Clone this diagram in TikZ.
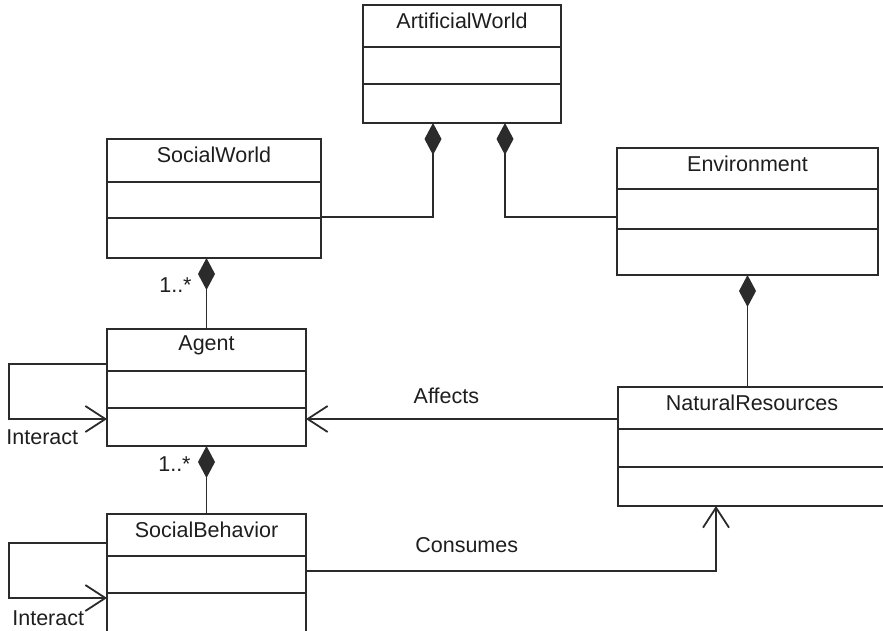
\documentclass[tikz,border=0pt]{standalone}
\usepackage{fontspec}
\setmainfont{Liberation Sans}
\usetikzlibrary{arrows.meta}

\definecolor{umlline}{HTML}{2B2B2B}
\definecolor{umltext}{HTML}{1E1E1E}

\tikzset{
    classbox/.style={draw=umlline, line width=1.8pt, rectangle, inner sep=0pt, outer sep=0pt, anchor=north west},
    classline/.style={draw=umlline, line width=1.8pt},
    classname/.style={inner sep=0pt, text=umltext},
    has/.style={draw=umlline, line width=1.8pt, arrows={Diamond[length=32pt, width=17pt, fill=umlline]-}},
    uses/.style={draw=umlline, line width=1.8pt, arrows={-Straight Barb[length=20pt, width=26pt]}},
    tag/.style={inner sep=0pt, text=umltext},
}

% name, title, left, top, width, height, divider offsets
\newcommand{\umlclass}[7]{
    \node[classbox, minimum width=#5, minimum height=#6] (#1) at (#3,#4) {};
    \node[classname] (#1-title) at ([yshift=-16pt]#1.north) {#2};
    \foreach \dy in {#7}
        \draw[classline] ([yshift=-\dy pt]#1.north west) -- ([yshift=-\dy pt]#1.north east);
}

\begin{document}
\begin{tikzpicture}[x=1pt, y=-1pt, font=\fontsize{21.5}{25}\selectfont]
    \useasboundingbox (0,0) rectangle (883,631);
    \clip (0,0) rectangle (883,631);

    \umlclass{aw}{ArtificialWorld}{363}{5}{198pt}{118pt}{42,79}
    \umlclass{sw}{SocialWorld}{107}{139}{214pt}{119pt}{43,79}
    \umlclass{env}{Environment}{617}{148}{261pt}{127pt}{41,81}
    \umlclass{ag}{Agent}{107}{329}{199pt}{117pt}{42,79}
    \umlclass{nr}{NaturalResources}{618}{387}{268pt}{119pt}{42,80}
    \umlclass{sb}{SocialBehavior}{107}{514}{199pt}{120pt}{42,79}

    % composition
    \draw[has] ([xshift=-29pt]aw.south) |- ([yshift=41pt]sw.south east);
    \draw[has] ([xshift=43pt]aw.south) |- ([yshift=58pt]env.south west);
    \draw[has] (sw.south -| ag.north) -- node[tag, pos=0.38, left=14pt] (m1) {1..*} (ag.north);
    \draw[has] (ag.south) -- node[tag, pos=0.26, left=15pt] (m2) {1..*} (sb.north);
    \draw[has] (env.south) -- (env.south |- nr.north);

    % associations
    \draw[uses] ([yshift=-32pt]nr.north west) -- node[tag, pos=0.55, yshift=23pt] (affects) {Affects} ([yshift=27pt]ag.south east);
    \draw[uses] ([yshift=-57pt]sb.north east) -| node[tag, pos=0.196, yshift=26pt] (consumes) {Consumes} ([xshift=98pt]nr.south west);

    % self loops
    \draw[uses] ([yshift=-35pt]ag.north west) -- ++(-98,0) |- node[tag, pos=0.67, yshift=-18pt] (ag-loop) {Interact} ([yshift=27pt]ag.south west);
    \draw[uses] ([yshift=-29pt]sb.north west) -- ++(-98,0) |- node[tag, pos=0.70, yshift=-20pt] (sb-loop) {Interact} ([yshift=-84pt]sb.north west);
\end{tikzpicture}
\end{document}
